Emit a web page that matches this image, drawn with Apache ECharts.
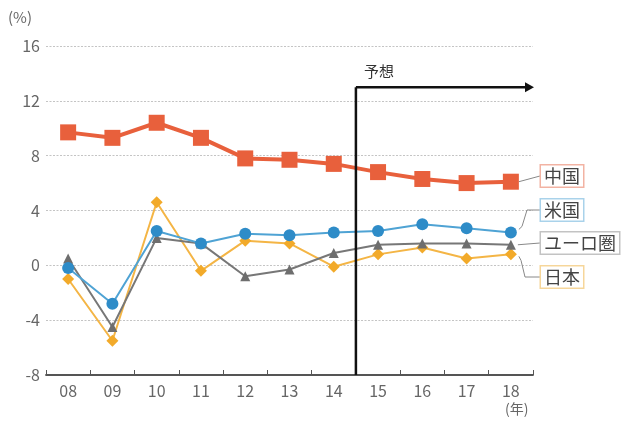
<!DOCTYPE html>
<html><head><meta charset="utf-8">
<script src="https://cdn.jsdelivr.net/npm/echarts@6/dist/echarts.min.js"></script>
<style>html,body{margin:0;padding:0;background:#fff}#c{width:632px;height:425px}</style>
</head><body><div id="c"></div>
<script>
const years = ['08','09','10','11','12','13','14','15','16','17','18'];
const yTicks = [-8,-4,0,4,8,12,16];
const china = [9.7,9.3,10.4,9.3,7.8,7.7,7.4,6.8,6.3,6.0,6.1];
const usa   = [-0.2,-2.8,2.5,1.6,2.3,2.2,2.4,2.5,3.0,2.7,2.4];
const euro  = [0.5,-4.5,2.0,1.6,-0.8,-0.3,0.9,1.5,1.6,1.6,1.5];
const japan = [-1.0,-5.5,4.6,-0.4,1.8,1.6,-0.1,0.8,1.3,0.5,0.8];
const names = ['中国','米国','ユーロ圏','日本'];
const forecastTop = 13;

const FONT = '"Noto Sans CJK JP", "Noto Sans", sans-serif';
const chart = echarts.init(document.getElementById('c'));
function ser(name, data, color, lineColor, symbol, size, width, z){
  return {name, type:'line', data, xAxisIndex:0, symbol, symbolSize:size, z,
    itemStyle:{color}, lineStyle:{color:lineColor, width}, emphasis:{disabled:true}};
}
chart.setOption({
  animation:false,
  textStyle:{fontFamily:FONT},
  grid:{left:46, right:99, top:46, bottom:50},
  xAxis:[{type:'category', data:years, boundaryGap:true, position:'bottom',
      axisLine:{show:false}, axisTick:{show:false},
      axisLabel:{color:'#666', fontSize:16, margin:8, fontFamily:FONT}},
    {type:'category', data:years, boundaryGap:true, position:'bottom',
      axisLine:{show:true, onZero:true, lineStyle:{color:'#555', width:1.8}},
      axisTick:{show:true, inside:true, length:5, lineStyle:{color:'#555'}},
      axisLabel:{show:false}}],
  yAxis:{type:'value', min:yTicks[0], max:yTicks[yTicks.length-1], interval:4,
    axisLine:{show:false}, axisTick:{show:false},
    axisLabel:{color:'#666', fontSize:16, margin:6, fontFamily:FONT},
    splitLine:{show:true, lineStyle:{color:'#c4c4c4', type:[2,1.5], width:1.2}}},
  series:[
    ser(names[3], japan, '#F2AA2A', '#F4B545', 'diamond', 12, 2, 3),
    ser(names[2], euro, '#6e6e6e', '#777', 'triangle', 10, 2, 4),
    ser(names[1], usa, '#2E8CC8', '#4FA3D4', 'circle', 12, 2, 5),
    ser(names[0], china, '#E8603C', '#E8603C', 'rect', 16, 4, 6)
  ]
});

const px = (i, v) => chart.convertToPixel({xAxisIndex:0, yAxisIndex:0}, [i, v]);
const last = years.length - 1;
const gx2 = px(last,0)[0] + (px(1,0)[0]-px(0,0)[0])/2;
const fx = (px(6,0)[0] + px(7,0)[0]) / 2;
const fTop = px(6, forecastTop)[1];
const fBot = px(6, yTicks[0])[1];
const LX = 540;

const labels = [
  {text:names[0], v:china[last], y:176, border:'#F2B3A3', pts:function(p){return [[p[0]+8,p[1]],[LX,176]];}},
  {text:names[1], v:usa[last], y:210, border:'#A9D2EA', pts:function(p){return [[p[0]+8,p[1]-3],[522,p[1]-6],[527,210],[LX,210]];}},
  {text:names[2], v:euro[last], y:243, border:'#C3C3C3', pts:function(p){return [[p[0]+7,p[1]],[LX,243]];}},
  {text:names[3], v:japan[last], y:277, border:'#F6D69A', pts:function(p){return [[p[0]+8,p[1]+2],[521,p[1]+6],[525,277],[LX,277]];}}
];
const g = [];
g.push({type:'line', shape:{x1:fx, y1:fTop, x2:fx, y2:fBot}, style:{stroke:'#111', lineWidth:2.5}, z:10});
g.push({type:'line', shape:{x1:fx, y1:fTop, x2:gx2-7, y2:fTop}, style:{stroke:'#111', lineWidth:2.5}, z:10});
g.push({type:'polygon', shape:{points:[[gx2-8,fTop-5],[gx2+1,fTop],[gx2-8,fTop+5]]}, style:{fill:'#111'}, z:10});
g.push({type:'text', x:fx+8, y:fTop-8, style:{text:'予想', font:'15px '+FONT, fill:'#333', textVerticalAlign:'bottom'}, z:10});
g.push({type:'text', x:8, y:10, style:{text:'(%)', font:'15px '+FONT, fill:'#666'}});
g.push({type:'text', x:gx2-28, y:402, style:{text:'(年)', font:'14px '+FONT, fill:'#666'}});
labels.forEach(function(l){
  const p = px(last, l.v);
  g.push({type:'polyline', shape:{points:l.pts(p)}, style:{stroke:'#888', lineWidth:1, fill:null}, z:1});
  g.push({type:'text', x:LX+1, y:l.y, style:{text:l.text, font:'18px '+FONT, fill:'#444',
    textVerticalAlign:'middle', backgroundColor:'#fff', borderColor:l.border, borderWidth:1.5, padding:[2,3,1,3]}, z:2});
});
chart.setOption({graphic:g});
</script></body></html>
